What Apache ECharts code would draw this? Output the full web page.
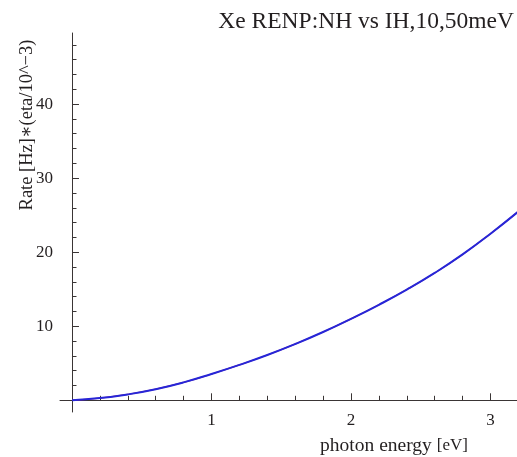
<!DOCTYPE html>
<html>
<head>
<meta charset="utf-8">
<script src="https://cdn.jsdelivr.net/npm/echarts@6.0.0/dist/echarts.min.js"></script>
<style>
  html, body { margin: 0; padding: 0; background: #fff; }
  #chart { width: 517px; height: 457px; }
</style>
</head>
<body>
<div id="chart"></div>
<script>
// photon energy [eV]
const energy = [0, 0.2, 0.4, 0.6, 0.8, 1.0, 1.2, 1.4, 1.6, 1.8, 2.0, 2.2, 2.4, 2.6, 2.8, 3.0, 3.2]
// rate, normal and inverted hierarchy (curves lie on top of each other)
const rateNH = [0, 0.3, 0.8, 1.5, 2.42, 3.55, 4.78, 6.12, 7.6, 9.22, 11.0, 12.9, 14.95, 17.2, 19.7, 22.5, 25.5]
const rateIH = [0, 0.3, 0.8, 1.5, 2.42, 3.55, 4.78, 6.12, 7.6, 9.22, 11.0, 12.9, 14.95, 17.2, 19.7, 22.5, 25.5]
const xTicks = [1, 2, 3]
const yTicks = [10, 20, 30, 40]

const serif = '"Liberation Serif", "DejaVu Serif", serif'
const axisColor = '#3a3535'
const textColor = '#231f20'

const chart = echarts.init(document.getElementById('chart'))

const options = {
  animation: false,
  title: {
    text: 'Xe RENP:NH vs IH,10,50meV',
    right: -2,
    top: 5,
    textStyle: {
      fontFamily: serif,
      fontWeight: 'normal',
      fontSize: 23.5,
      color: textColor,
    },
  },
  graphic: [
    {
      type: 'text',
      x: 27,
      y: 125,
      rotation: Math.PI / 2,
      style: {
        text: 'Rate [Hz]\u2217(eta/10^\u22123)',
        fontFamily: serif,
        fontSize: 18.5,
        fill: textColor,
        align: 'center',
        verticalAlign: 'middle',
      },
    },
    {
      type: 'text',
      x: 394,
      y: 446,
      style: {
        rich: {
          a: {fontFamily: serif, fontSize: 19.5, fill: textColor},
          b: {fontFamily: serif, fontSize: 17, fill: textColor},
        },
        text: '{a|photon energy }{b|[eV]}',
        align: 'center',
        verticalAlign: 'middle',
      },
    },
  ],
  grid: {
    left: 60,
    right: 0,
    top: 33,
    bottom: 45,
  },
  xAxis: {
    type: 'value',
    min: -0.086,
    max: 3.19,
    splitNumber: 3,
    axisLine: {
      onZero: true,
      lineStyle: {color: axisColor, width: 1},
    },
    axisTick: {
      inside: true,
      length: 7,
      customValues: xTicks,
      lineStyle: {color: axisColor},
    },
    minorTick: {
      show: true,
      splitNumber: 5,
      length: 4.5,
      lineStyle: {color: axisColor},
    },
    axisLabel: {
      customValues: xTicks,
      margin: 0,
      fontFamily: serif,
      fontSize: 17,
      color: textColor,
    },
    splitLine: {show: false},
  },
  yAxis: {
    type: 'value',
    min: -1.58,
    max: 49.6,
    splitNumber: 5,
    axisLine: {
      onZero: true,
      lineStyle: {color: axisColor, width: 1},
    },
    axisTick: {
      inside: true,
      length: 7,
      customValues: yTicks,
      lineStyle: {color: axisColor},
    },
    minorTick: {
      show: true,
      splitNumber: 5,
      length: 4.5,
      lineStyle: {color: axisColor},
    },
    axisLabel: {
      customValues: yTicks,
      margin: 7,
      fontFamily: serif,
      fontSize: 17,
      color: textColor,
    },
    splitLine: {show: false},
  },
  series: [
    {
      name: 'NH',
      type: 'line',
      smooth: 0.5,
      showSymbol: false,
      data: energy.map((e, i) => [e, rateNH[i]]),
      lineStyle: {color: '#c02050', width: 1.2},
    },
    {
      name: 'IH',
      type: 'line',
      smooth: 0.5,
      showSymbol: false,
      data: energy.map((e, i) => [e, rateIH[i]]),
      lineStyle: {color: '#2626d8', width: 2},
    },
  ],
}

options && chart.setOption(options)
</script>
</body>
</html>
